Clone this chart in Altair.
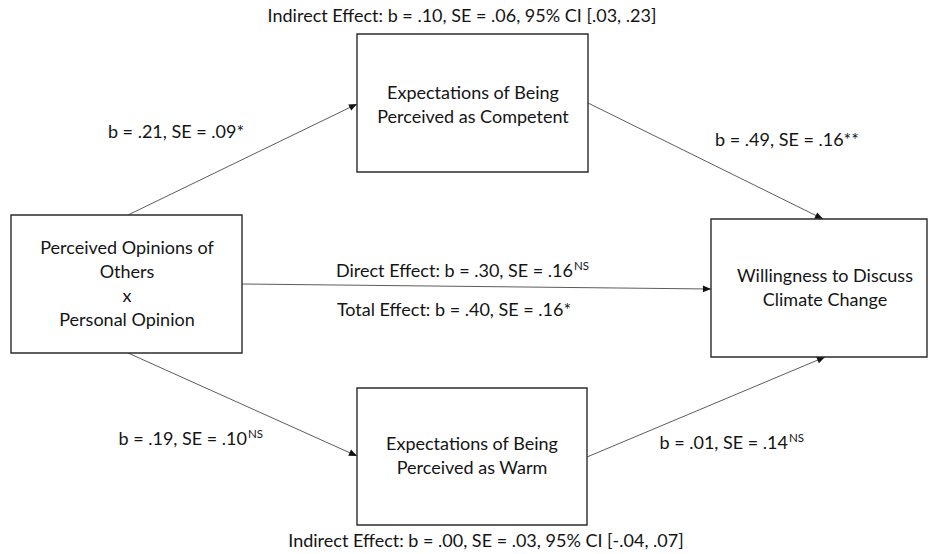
import math
import altair as alt
import pandas as pd

W, H = 930, 554
FONT = "Lato"
INK = "#141414"
SIZE = 18

# Boxes of the mediation model (canvas units, y measured downward)
box_names = ["predictor", "competent", "warm", "outcome"]
box_x0 = [11, 357, 357, 711]
box_x1 = [242, 588, 587, 927]
box_y0 = [215, 34, 388, 219]
box_y1 = [353, 172, 525, 357]
box_text = [
    "Perceived Opinions of\nOthers\nx\nPersonal Opinion",
    "Expectations of Being\nPerceived as Competent",
    "Expectations of Being\nPerceived as Warm",
    "Willingness to Discuss\nClimate Change",
]
# anchor of the first text line in each box
box_text_x = [127, 473, 472, 825]
box_text_y = [249, 94, 445, 277]

# Paths between boxes: start and end points
path_from = ["predictor", "competent", "predictor", "predictor", "warm"]
path_to = ["competent", "outcome", "outcome", "warm", "outcome"]
path_x0 = [128, 588, 242, 128, 587]
path_y0 = [215, 103, 284, 353, 457]
path_x1 = [357, 823, 711, 357, 825]
path_y1 = [104, 219, 289, 456, 357]

# Coefficient labels that are centred on a point
coef_text = [
    "Indirect Effect: b = .10, SE = .06, 95% CI [.03, .23]",
    "b = .21, SE = .09*",
    "b = .49, SE = .16**",
    "Total Effect: b = .40, SE = .16*",
    "Indirect Effect: b = .00, SE = .03, 95% CI [-.04, .07]",
]
coef_x = [462, 176, 787, 454, 486]
coef_y = [17, 133, 141, 311, 542]

# Coefficient labels carrying a superscript, anchored at their right end
sup_main = [
    "Direct Effect: b = .30, SE = .16",
    "b = .19, SE = .10",
    "b = .01, SE = .14",
]
sup_tag = ["NS", "NS", "NS"]
sup_x = [573, 247, 788]
sup_y = [272, 440, 444]

boxes = pd.DataFrame({
    "name": box_names, "x0": box_x0, "x1": box_x1, "y0": box_y0, "y1": box_y1,
    "label": box_text, "tx": box_text_x, "ty": box_text_y,
})
paths = pd.DataFrame({
    "src": path_from, "dst": path_to,
    "x0": path_x0, "y0": path_y0, "x1": path_x1, "y1": path_y1,
})
paths["angle"] = [
    math.degrees(math.atan2(b_y - a_y, b_x - a_x)) % 360
    for a_x, a_y, b_x, b_y in zip(path_x0, path_y0, path_x1, path_y1)
]
coefs = pd.DataFrame({"label": coef_text, "x": coef_x, "y": coef_y})
sups = pd.DataFrame({"label": sup_main, "tag": sup_tag, "x": sup_x, "y": sup_y})

xs = alt.Scale(domain=[0, W], nice=False, zero=False)
ys = alt.Scale(domain=[0, H], nice=False, zero=False, reverse=True)


def X(f):
    return alt.X(f, type="quantitative", scale=xs, axis=None)


def Y(f):
    return alt.Y(f, type="quantitative", scale=ys, axis=None)


rules = alt.Chart(paths).mark_rule(color="#4a4a4a", strokeWidth=0.9).encode(
    x=X("x0"), y=Y("y0"), x2="x1", y2="y1"
)

heads = alt.Chart(paths).mark_point(
    shape="M0,0L-1,-0.42L-1,0.42Z", filled=True, opacity=1, color="#111111", size=260
).encode(x=X("x1"), y=Y("y1"), angle=alt.Angle("angle:Q", scale=None))

rects = alt.Chart(boxes).mark_rect(
    fill="white", stroke="#2b2b2b", strokeWidth=1.4
).encode(x=X("x0"), x2="x1", y=Y("y0"), y2="y1")

box_labels = alt.Chart(boxes).mark_text(
    font=FONT, fontSize=SIZE, color=INK, lineBreak="\n", lineHeight=24,
    align="center", baseline="middle"
).encode(x=X("tx"), y=Y("ty"), text="label:N")

coef_labels = alt.Chart(coefs).mark_text(
    font=FONT, fontSize=SIZE, color=INK, align="center", baseline="middle"
).encode(x=X("x"), y=Y("y"), text="label:N")

sup_labels = alt.Chart(sups).mark_text(
    font=FONT, fontSize=SIZE, color=INK, align="right", baseline="middle"
).encode(x=X("x"), y=Y("y"), text="label:N")

sup_tags = alt.Chart(sups).mark_text(
    font=FONT, fontSize=11.5, color=INK, align="left", baseline="middle", dx=1, dy=-5
).encode(x=X("x"), y=Y("y"), text="tag:N")

chart = alt.layer(
    rules, heads, rects, box_labels, coef_labels, sup_labels, sup_tags
).properties(
    width=W, height=H, padding=0, autosize=alt.AutoSizeParams(type="none"),
    background="white"
).configure_view(stroke=None)

chart.save("out.html", embed_options={"renderer": "svg", "actions": False})
